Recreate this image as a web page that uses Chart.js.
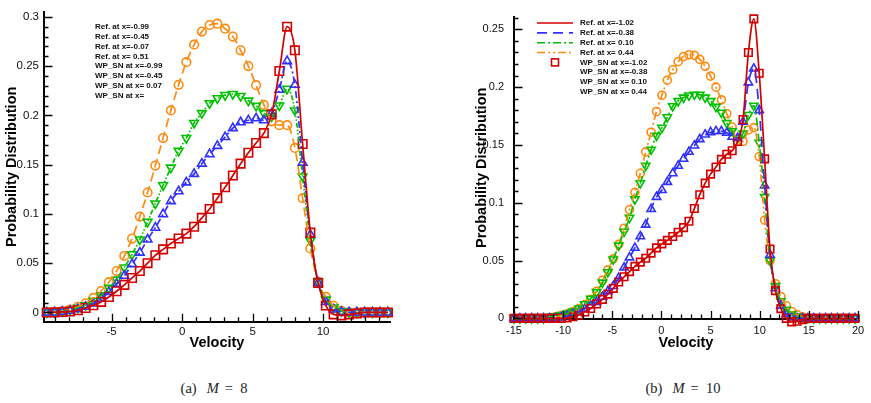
<!DOCTYPE html>
<html>
<head>
<meta charset="utf-8">
<script src="https://cdn.jsdelivr.net/npm/chart.js@4.4.0/dist/chart.umd.min.js"></script>
<style>
  body { margin: 0; background: #fff; width: 871px; height: 403px; position: relative; overflow: hidden; }
  .plot { position: absolute; top: 0; }
  .cap { position: absolute; top: 379px; width: 200px; text-align: center; line-height: 18px;
         font-family: "Liberation Serif", "DejaVu Serif", serif; font-size: 14.5px; color: #222; }
  .cap i { margin: 0 6px 0 10px; }
</style>
</head>
<body>
<canvas id="plotA" class="plot" style="left:0px" width="400" height="352"></canvas>
<canvas id="plotB" class="plot" style="left:470px" width="400" height="352"></canvas>
<div class="cap" style="left:114px">(a)<i>M</i>=&nbsp;&nbsp;8</div>
<div class="cap" style="left:583px">(b)<i>M</i>=&nbsp;&nbsp;10</div>
<script>
// ---- panel (a) M = 8 ----
const velA = [-9.6, -9.05, -8.5, -7.95, -7.4, -6.85, -6.3, -5.75, -5.2, -4.65, -4.1, -3.55, -3.0, -2.45, -1.9,
  -1.35, -0.8, -0.25, 0.3, 0.85, 1.4, 1.95, 2.5, 3.05, 3.6, 4.15, 4.7, 5.25, 5.8, 6.35, 6.9, 7.45, 8.0, 8.55,
  9.1, 9.65, 10.2, 10.75, 11.3, 11.85, 12.4, 12.95, 13.5, 14.05, 14.6];
const redA = [0, 0, 0.0005, 0.001, 0.0022, 0.0045, 0.0073, 0.0107, 0.0157, 0.0215, 0.028, 0.035, 0.042, 0.050,
  0.058, 0.064, 0.070, 0.075, 0.080, 0.087, 0.096, 0.105, 0.116, 0.127, 0.139, 0.151, 0.162, 0.172, 0.182,
  0.201, 0.245, 0.290, 0.266, 0.171, 0.081, 0.030, 0.007, -0.002, -0.003, -0.002, -0.001, 0, 0, 0, 0];
const blueA = [0, 0, 0.0007, 0.0017, 0.0033, 0.0057, 0.009, 0.014, 0.0207, 0.029, 0.0373, 0.049, 0.0607, 0.074,
  0.086, 0.0997, 0.113, 0.123, 0.132, 0.1406, 0.151, 0.1606, 0.169, 0.178, 0.187, 0.193, 0.195, 0.197, 0.195,
  0.2017, 0.226, 0.255, 0.231, 0.152, 0.079, 0.030, 0.0106, 0.003, 0.0005, 0, 0, 0, 0, 0, 0];
const greenA = [0, 0.0003, 0.001, 0.0023, 0.0047, 0.0073, 0.0117, 0.0173, 0.025, 0.0333, 0.0456, 0.059, 0.074,
  0.092, 0.1106, 0.129, 0.147, 0.164, 0.177, 0.1923, 0.2023, 0.2123, 0.2173, 0.2206, 0.2217, 0.2197, 0.215,
  0.2096, 0.2023, 0.199, 0.21, 0.227, 0.205, 0.138, 0.073, 0.031, 0.013, 0.005, 0.0013, 0.0003, 0, 0, 0, 0, 0];
const orangeA = [0, 0.0007, 0.0013, 0.003, 0.0057, 0.0093, 0.0147, 0.0217, 0.0307, 0.042, 0.0573, 0.075, 0.0973,
  0.1217, 0.149, 0.177, 0.205, 0.231, 0.254, 0.2717, 0.285, 0.2917, 0.293, 0.288, 0.28, 0.266, 0.25, 0.2306,
  0.2106, 0.194, 0.19, 0.19, 0.167, 0.116, 0.065, 0.031, 0.0157, 0.0067, 0.0017, 0, 0, 0, 0, 0, 0];
const xTicksA = [-5, 0, 5, 10];
const yTicksA = [0, 0.05, 0.1, 0.15, 0.2, 0.25, 0.3];
const legendA = ['Ref. at x=-0.99', 'Ref. at x=-0.45', 'Ref. at x=-0.07', 'Ref. at x= 0.51',
  'WP_SN at x=-0.99', 'WP_SN at x=-0.45', 'WP_SN at x= 0.07', 'WP_SN at x='];

// ---- panel (b) M = 10 ----
const velB = [-15.0, -14.4, -13.8, -13.2, -12.6, -12.0, -11.4, -10.8, -10.2, -9.6, -9.0, -8.4, -7.8, -7.2, -6.6,
  -6.0, -5.45, -4.9, -4.35, -3.8, -3.25, -2.7, -2.15, -1.6, -1.05, -0.5, 0.05, 0.6, 1.15, 1.7, 2.25, 2.8, 3.35,
  3.9, 4.45, 5.0, 5.55, 6.1, 6.65, 7.2, 7.75, 8.3, 8.85, 9.4, 9.95, 10.5, 11.05, 11.6, 12.15, 12.7, 13.25, 13.8,
  14.35, 14.9, 15.5, 16.1, 16.7, 17.3, 17.9, 18.5, 19.1, 19.7];
const redB = [0, 0, 0, 0, 0, 0, 0, 0, 0, 0.0005, 0.0015, 0.003, 0.0055, 0.0086, 0.0125, 0.0165, 0.021, 0.026,
  0.0315, 0.036, 0.0405, 0.045, 0.0487, 0.052, 0.0565, 0.061, 0.0645, 0.0675, 0.0708, 0.0745, 0.0785, 0.084,
  0.095, 0.107, 0.117, 0.1248, 0.131, 0.1375, 0.142, 0.145, 0.153, 0.172, 0.23, 0.259, 0.212, 0.138, 0.06,
  0.024, 0.0085, 0, -0.003, -0.0025, -0.001, 0, 0, 0, 0, 0, 0, 0, 0, 0];
const blueB = [0, 0, 0, 0, 0, 0, 0, 0, 0.0008, 0.0022, 0.0038, 0.0057, 0.0085, 0.0113, 0.0142, 0.0186, 0.0235,
  0.028, 0.035, 0.044, 0.0527, 0.061, 0.071, 0.081, 0.0946, 0.105, 0.111, 0.118, 0.1255, 0.132, 0.138, 0.144,
  0.1495, 0.155, 0.159, 0.161, 0.162, 0.162, 0.1605, 0.157, 0.156, 0.17, 0.204, 0.216, 0.18, 0.115, 0.055,
  0.026, 0.011, 0.0035, 0.001, 0, 0, 0, 0, 0, 0, 0, 0, 0, 0, 0];
const greenB = [0, 0, 0, 0, 0, 0, 0.0012, 0.002, 0.003, 0.0042, 0.006, 0.0087, 0.0123, 0.017, 0.0228, 0.031,
  0.040, 0.051, 0.063, 0.075, 0.087, 0.103, 0.117, 0.132, 0.146, 0.158, 0.165, 0.174, 0.1835, 0.188, 0.191,
  0.1928, 0.1935, 0.1935, 0.191, 0.188, 0.183, 0.178, 0.169, 0.162, 0.156, 0.16, 0.176, 0.184, 0.152, 0.105,
  0.05, 0.028, 0.015, 0.0075, 0.0036, 0.0017, 0.0008, 0.0003, 0, 0, 0, 0, 0, 0, 0, 0];
const orangeB = [0, 0, 0, 0, 0, 0, 0.0005, 0.0013, 0.0024, 0.0039, 0.006, 0.0085, 0.012, 0.0165, 0.0235, 0.033,
  0.042, 0.0515, 0.064, 0.078, 0.094, 0.109, 0.1255, 0.144, 0.161, 0.179, 0.193, 0.206, 0.215, 0.222, 0.2265,
  0.228, 0.2275, 0.224, 0.218, 0.2095, 0.2, 0.189, 0.177, 0.1655, 0.153, 0.153, 0.163, 0.165, 0.14, 0.085,
  0.05, 0.03, 0.019, 0.011, 0.006, 0.0033, 0.0015, 0.0005, 0, 0, 0, 0, 0, 0, 0, 0];
const xTicksB = [-15, -10, -5, 0, 5, 10, 15, 20];
const yTicksB = [0, 0.05, 0.1, 0.15, 0.2, 0.25];
const legendB = ['Ref. at x=-1.02', 'Ref. at x=-0.38', 'Ref. at x= 0.10', 'Ref. at x= 0.44',
  'WP_SN at x=-1.02', 'WP_SN at x=-0.38', 'WP_SN at x= 0.10', 'WP_SN at x= 0.44'];

// series look (same order in both panels: red, blue, green, orange)
const colors = ['#d40000', '#3030ff', '#00c000', '#ff8a10'];
const markers = ['rect', 'triangle', 'triangle', 'circle'];
const turns = [0, 0, 180, 0];
const dashesA = [[], [7, 3, 2, 3], [5, 2, 1.5, 2, 1.5, 2], [9, 5]];
const dashesB = [[], [10, 6], [8, 3, 2, 3], [8, 3, 2, 3, 2, 3]];

Chart.defaults.font.family = '"Liberation Sans", Arial, sans-serif';
Chart.defaults.color = '#111';

function buildSets(vel, series, dashes, radii) {
  const lines = series.map((vals, i) => ({
    data: vel.map((v, k) => ({ x: v, y: vals[k] })),
    borderColor: colors[i],
    borderWidth: 1.7,
    borderDash: dashes[i],
    pointRadius: 0,
    cubicInterpolationMode: 'monotone',
    clip: false
  }));
  const marks = series.map((vals, i) => ({
    data: vel.map((v, k) => ({ x: v, y: vals[k] })),
    showLine: false,
    pointStyle: markers[i],
    pointRotation: turns[i],
    pointRadius: radii[i],
    pointBorderWidth: 1.6,
    pointBorderColor: colors[i],
    pointBackgroundColor: 'rgba(0,0,0,0)',
    clip: false
  }));
  return lines.concat(marks);
}

// inward major / minor ticks, Tecplot style
const innerTicks = {
  id: 'innerTicks',
  afterDraw(chart) {
    const { ctx, chartArea: a, scales: { x, y } } = chart;
    ctx.save();
    ctx.strokeStyle = '#000';
    ctx.lineWidth = 1.3;
    ctx.beginPath();
    for (let v = Math.ceil(x.min); v <= x.max; v++) {
      const px = Math.round(x.getPixelForValue(v)) + 0.5;
      const len = (v % 5 === 0) ? 8 : 4.5;
      ctx.moveTo(px, a.bottom);
      ctx.lineTo(px, a.bottom - len);
    }
    for (let k = Math.ceil(y.min * 100); k <= Math.floor(y.max * 100 + 1e-6); k++) {
      const py = Math.round(y.getPixelForValue(k / 100)) + 0.5;
      const len = (k % 5 === 0) ? 8.5 : 4.5;
      ctx.moveTo(a.left, py);
      ctx.lineTo(a.left + len, py);
    }
    ctx.stroke();
    ctx.restore();
  }
};

const fakeLegend = {
  id: 'fakeLegend',
  afterDatasetsDraw(chart, args, opts) {
    const ctx = chart.ctx;
    ctx.save();
    ctx.font = 'bold 8px "Liberation Sans", Arial, sans-serif';
    ctx.textBaseline = 'middle';
    opts.labels.forEach((txt, i) => {
      const yy = opts.top + i * opts.gap;
      ctx.fillStyle = '#111';
      ctx.fillText(txt, opts.textX, yy);
      if (opts.samples && i < 4) {
        ctx.strokeStyle = colors[i];
        ctx.lineWidth = 1.6;
        ctx.setLineDash(dashesB[i]);
        ctx.beginPath();
        ctx.moveTo(opts.lineX0, yy);
        ctx.lineTo(opts.lineX1, yy);
        ctx.stroke();
        ctx.setLineDash([]);
      }
      if (opts.samples && i === 4) {
        ctx.strokeStyle = colors[0];
        ctx.lineWidth = 1.6;
        ctx.strokeRect(opts.markX - 3.5, yy - 3.5, 7, 7);
      }
    });
    ctx.restore();
  }
};

function makeChart(id, vel, series, dashes, radii, cfg) {
  new Chart(document.getElementById(id), {
    type: 'line',
    data: { datasets: buildSets(vel, series, dashes, radii) },
    plugins: [innerTicks, fakeLegend],
    options: {
      responsive: false,
      animation: false,
      layout: { padding: { top: cfg.top, right: cfg.right, left: 0, bottom: 0 } },
      plugins: {
        legend: { display: false },
        tooltip: { enabled: false },
        fakeLegend: cfg.legend
      },
      scales: {
        x: {
          type: 'linear',
          min: cfg.xMin,
          max: cfg.xMax,
          afterBuildTicks: s => { s.ticks = cfg.xTicks.map(v => ({ value: v })); },
          afterFit: s => { s.height = cfg.xHeight; },
          ticks: { padding: cfg.xPad, font: { size: cfg.tickSize }, color: '#111', callback: v => String(v) },
          grid: { display: false, drawTicks: false },
          border: { display: true, color: '#000', width: 2 },
          title: { display: true, text: 'Velocity', font: { size: 14.5, weight: 'bold' }, color: '#000', padding: 0 }
        },
        y: {
          type: 'linear',
          min: cfg.yMin,
          max: cfg.yMax,
          afterBuildTicks: s => { s.ticks = cfg.yTicks.map(v => ({ value: v })); },
          afterFit: s => { s.width = 44; },
          ticks: { padding: cfg.yPad, font: { size: cfg.tickSize }, color: '#111', callback: v => String(v) },
          grid: { display: false, drawTicks: false },
          border: { display: true, color: '#000', width: 2 },
          title: { display: true, text: 'Probability Distribution', font: { size: 14.5, weight: 'bold' },
                   color: '#000', padding: { top: 3, bottom: 0 } }
        }
      }
    }
  });
}

makeChart('plotA', velA, [redA, blueA, greenA, orangeA], dashesA, [6, 5, 5, 4.3], {
  top: 7, right: 10, xHeight: 30.3, xMin: -9.8, xMax: 14.75, yMin: -0.0094, yMax: 0.305,
  xTicks: xTicksA, yTicks: yTicksA, xPad: 3, yPad: 5, tickSize: 11.5,
  legend: { labels: legendA, textX: 95, top: 27, gap: 9.8, samples: false }
});

makeChart('plotB', velB, [redB, blueB, greenB, orangeB], dashesB, [5.3, 4.8, 4.8, 4], {
  top: 6.7, right: 12, xHeight: 33, xMin: -15, xMax: 20, yMin: -0.0005, yMax: 0.261,
  xTicks: xTicksB, yTicks: yTicksB, xPad: 5, yPad: 10, tickSize: 11,
  legend: { labels: legendB, textX: 110, top: 23, gap: 9.85, samples: true, lineX0: 67, lineX1: 103, markX: 85 }
});
</script>
</body>
</html>
